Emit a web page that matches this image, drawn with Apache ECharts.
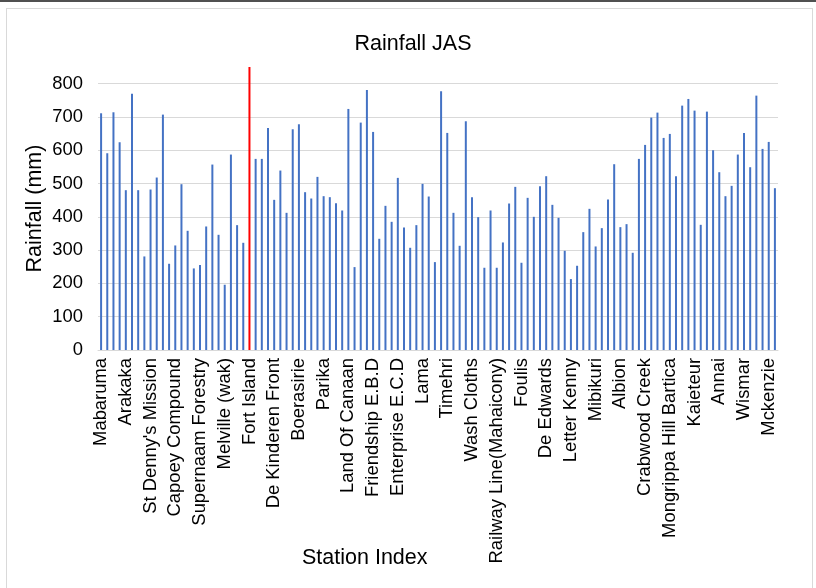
<!DOCTYPE html>
<html>
<head>
<meta charset="utf-8">
<script src="https://cdn.jsdelivr.net/npm/echarts@6/dist/echarts.min.js"></script>
<style>
  html, body { margin: 0; padding: 0; background: #fff; }
  .topline { position: absolute; left: 0; top: 0; width: 816px; height: 2px; background: #505050; }
  .frame { position: absolute; left: 6px; top: 8px; width: 805px; height: 600px; border: 1px solid #d9d9d9; }
  #chart { position: absolute; left: 0; top: 0; width: 816px; height: 588px; }
</style>
</head>
<body>
<div class="topline"></div>
<div class="frame"></div>
<div id="chart"></div>
<script>
// named stations (every 4th one carries a label in the original)
const labelNames = [
  "Mabaruma", "Arakaka", "St Denny's Mission", "Capoey Compound", "Supernaam Forestry",
  "Melville (wak)", "Fort Island", "De Kinderen Front", "Boerasirie", "Parika",
  "Land Of Canaan", "Friendship E.B.D", "Enterprise E.C.D", "Lama", "Timehri",
  "Wash Cloths", "Railway Line(Mahaicony)", "Foulis", "De Edwards", "Letter Kenny",
  "Mibikuri", "Albion", "Crabwood Creek", "Mongrippa Hill Bartica", "Kaieteur",
  "Annai", "Wismar", "Mckenzie"
];

// rainfall (mm), one per station
const rainfall = [
  711, 591, 714, 624, 480, 770, 480, 281, 482, 518,
  707, 259, 314, 498, 358, 245, 255, 371, 557, 346,
  196, 587, 375, 322, 850, 574, 574, 667, 451, 539,
  412, 663, 678, 474, 455, 520, 462, 459, 441, 419,
  724, 249, 683, 781, 655, 334, 433, 385, 517, 368,
  307, 375, 499, 461, 264, 777, 652, 412, 313, 687,
  459, 399, 247, 419, 247, 323, 440, 490, 262, 457,
  400, 492, 522, 436, 397, 298, 213, 253, 354, 424,
  311, 366, 452, 558, 369, 378, 292, 574, 616, 698,
  713, 637, 649, 522, 734, 754, 719, 376, 716, 600,
  534, 462, 493, 587, 652, 549, 764, 604, 625, 486
];

// the red separator bar sits at Fort Island
const markerIndex = 24;

const yTicks = [0, 100, 200, 300, 400, 500, 600, 700, 800];

const stations = rainfall.map((v, i) => (i % 4 === 0 ? labelNames[i / 4] : "#" + (i + 1)));

const chart = echarts.init(document.getElementById("chart"));

const options = {
  animation: false,
  textStyle: { fontFamily: "Liberation Sans, Arial, sans-serif" },
  title: {
    text: "Rainfall JAS",
    left: 408,
    top: 28,
    textAlign: "center",
    textStyle: { fontSize: 21.5, fontWeight: "normal", color: "#000" },
  },
  grid: { left: 98, right: 38, top: 67, bottom: 238 },
  xAxis: {
    type: "category",
    data: stations,
    axisTick: { show: false },
    axisLine: { lineStyle: { color: "#d9d9d9", width: 1 } },
    axisLabel: {
      interval: 3,
      rotate: 90,
      color: "#000",
      fontSize: 18.4,
      margin: 8,
    },
  },
  yAxis: {
    type: "value",
    min: 0,
    max: 850,
    interval: 100,
    name: "Rainfall (mm)",
    nameLocation: "middle",
    nameGap: 52,
    nameMoveOverlap: false,
    nameTextStyle: { fontSize: 21.5, color: "#000" },
    axisLine: { show: false },
    axisTick: { show: false },
    axisLabel: {
      color: "#000",
      fontSize: 18.4,
      margin: 15,
      showMaxLabel: false,
      formatter: (v) => (yTicks.indexOf(v) >= 0 ? String(v) : ""),
    },
    splitLine: { showMaxLine: false, lineStyle: { color: "#d9d9d9", width: 1 } },
  },
  graphic: [
    {
      type: "text",
      left: 302,
      top: 547,
      style: { text: "Station Index", fill: "#000", font: "21.5px Liberation Sans, Arial, sans-serif" },
    },
  ],
  series: [
    {
      type: "bar",
      barWidth: 2,
      data: rainfall.map((v, i) => ({
        value: v,
        itemStyle: { color: i === markerIndex ? "#ff0000" : "#4472c4" },
      })),
    },
  ],
};

chart.setOption(options);
</script>
</body>
</html>
